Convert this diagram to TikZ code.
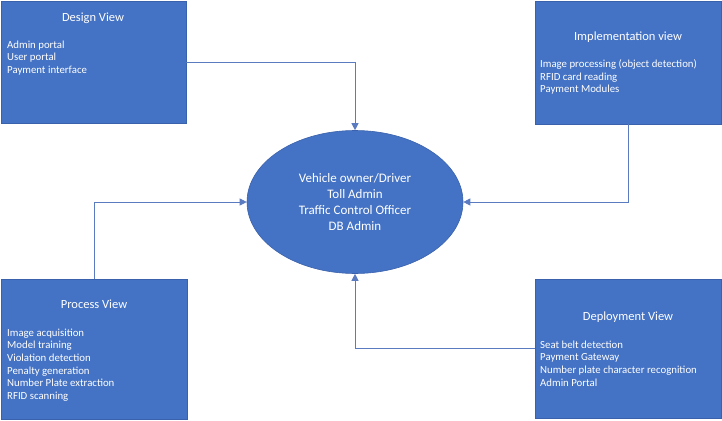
\documentclass[tikz,border=0pt]{standalone}
\usepackage{fontspec}
\setmainfont{Carlito}
\usetikzlibrary{shapes.geometric,arrows.meta}
\definecolor{boxblue}{HTML}{4472C4}
\definecolor{edgeblue}{HTML}{3A62AC}
\definecolor{lineblue}{HTML}{5B7BC0}
\tikzset{
  viewbox/.style={draw=edgeblue,line width=0.6pt,fill=boxblue,inner sep=0pt,minimum width=#1},
  viewtitle/.style={text=white,font=\fontsize{12.5}{14}\selectfont,inner sep=0pt},
  viewitems/.style={text=white,font=\fontsize{10.8}{12.7}\selectfont,align=left,inner sep=0pt,anchor=north west},
  actorsoval/.style={ellipse,draw=edgeblue,line width=0.6pt,fill=boxblue,inner sep=0pt,
     minimum width=216pt,minimum height=143pt,text=white,align=center,
     font=\fontsize{13}{16}\selectfont},
  conn/.style={draw=lineblue,line width=0.8pt,-{Triangle[length=7pt,width=7pt]}}
}
\begin{document}
\begin{tikzpicture}[x=1pt,y=-1pt]
\useasboundingbox (0,0) rectangle (722,420);
% boxes
\node[viewbox=185pt,minimum height=122pt] (design) at (93.5,62) {};
\node[viewbox=186pt,minimum height=123pt] (impl) at (628,62.5) {};
\node[viewbox=186pt,minimum height=140pt] (proc) at (94,349) {};
\node[viewbox=186pt,minimum height=139pt] (deploy) at (628,348.5) {};
% centre
\node[actorsoval] (actors) at (355,202) {Vehicle owner/Driver\\Toll Admin\\Traffic Control Officer\\DB Admin};
% titles
\node[viewtitle] (designT) at (93,18) {Design View};
\node[viewtitle] (implT) at (628,37) {Implementation view};
\node[viewtitle] (procT) at (94,304) {Process View};
\node[viewtitle] (deployT) at (628,317) {Deployment View};
% item lists
\node[viewitems] (designL) at (7,40.5) {Admin portal\\User portal\\Payment interface};
\node[viewitems] (implL) at (540,59.5) {Image processing (object detection)\\RFID card reading\\Payment Modules};
\node[viewitems] (procL) at (7,328.5) {Image acquisition\\Model training\\Violation detection\\Penalty generation\\Number Plate extraction\\RFID scanning};
\node[viewitems] (deployL) at (540,340.5) {Seat belt detection\\Payment Gateway\\Number plate character recognition\\Admin Portal};
% connectors
\draw[conn] (design.east) -| (actors.north);
\draw[conn] (impl.south) |- (actors.east);
\draw[conn] (proc.north) |- (actors.west);
\draw[conn] (deploy.west) -| (actors.south);
\end{tikzpicture}
\end{document}
